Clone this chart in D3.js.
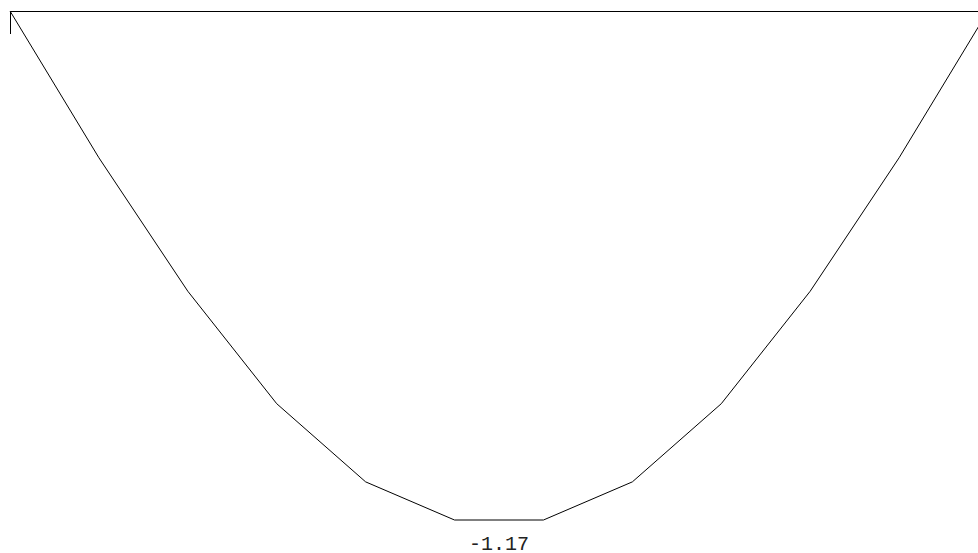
<!DOCTYPE html>
<html>
<head>
<meta charset="utf-8">
<script src="https://cdn.jsdelivr.net/npm/d3@7"></script>
<style>
  html, body { margin: 0; padding: 0; background: #fff; overflow: hidden; }
  svg { display: block; }
</style>
</head>
<body>
<svg id="chart" width="978" height="553"></svg>
<script>
// Series: twelve evenly spaced samples of a bowl-shaped curve
const steps = d3.range(12);
const values = [1.5, 0.73, 0.03, -0.56, -0.97, -1.17, -1.17, -0.97, -0.56, 0.03, 0.73, 1.5];
const minLabel = "-1.17";

const svg = d3.select("#chart");

const x = d3.scaleLinear()
  .domain([0, steps.length - 1])
  .range([10, 988]);

const y = d3.scaleLinear()
  .domain(d3.extent(values))
  .range([520, 11]);

// Baseline axis along the top of the curve, outer ticks only
svg.append("g")
  .attr("transform", `translate(0,${y(d3.max(values))})`)
  .call(d3.axisBottom(x).tickValues([]).tickSizeOuter(23))
  .call(g => g.select(".domain").attr("stroke", "#000").attr("stroke-width", 1));

const line = d3.line()
  .x((d, i) => x(steps[i]))
  .y(d => y(d));

svg.append("path")
  .datum(values)
  .attr("fill", "none")
  .attr("stroke", "#000")
  .attr("stroke-width", 1)
  .attr("d", line);

// Minimum value label under the flat bottom
const iMin = values.indexOf(d3.min(values));
svg.append("text")
  .attr("x", (x(steps[iMin]) + x(steps[iMin + 1])) / 2)
  .attr("y", 550)
  .attr("text-anchor", "middle")
  .attr("font-family", "'Liberation Mono', monospace")
  .attr("font-size", 20)
  .attr("fill", "#222")
  .text(minLabel);
</script>
</body>
</html>
